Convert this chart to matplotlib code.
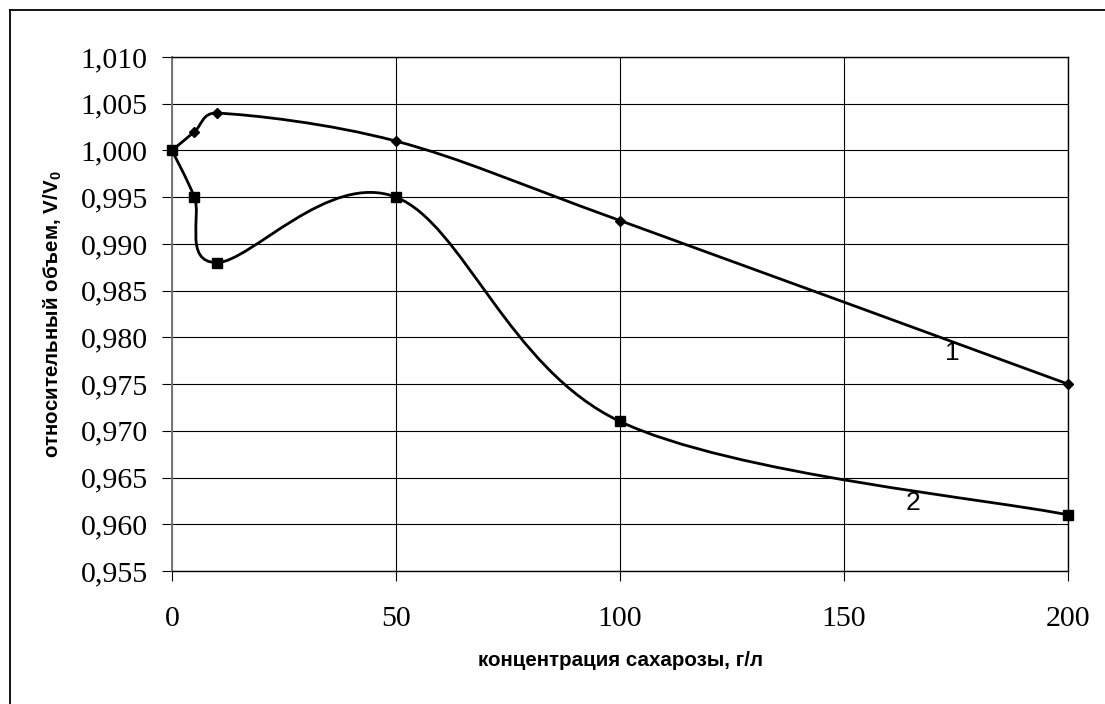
import numpy
import matplotlib
matplotlib.use('Agg')
import matplotlib.pyplot as plt
from matplotlib.path import Path
from matplotlib.patches import PathPatch
from matplotlib.lines import Line2D

# data
conc = [0, 5, 10, 50, 100, 200]
volume1 = [1.000, 1.002, 1.004, 1.001, 0.9925, 0.975]
volume2 = [1.000, 0.995, 0.988, 0.995, 0.971, 0.961]
xticks = [0, 50, 100, 150, 200]
yticks = [0.955, 0.960, 0.965, 0.970, 0.975, 0.980, 0.985, 0.990, 0.995, 1.000, 1.005, 1.010]
curve_labels = ['1', '2']
label_pos = [(174.1, 0.9783), (165.4, 0.9623)]

plt.rcParams['mathtext.fontset'] = 'custom'
plt.rcParams['mathtext.bf'] = 'Liberation Sans:bold'
plt.rcParams['mathtext.rm'] = 'Liberation Sans'

W, H = 1105, 704
fig = plt.figure(figsize=(W/100, H/100), dpi=100)
ax = fig.add_axes([172/W, 1-571/H, (1068-172)/W, (571-57)/H])
ax.set_xlim(0, 200)
ax.set_ylim(0.955, 1.010)

# outer chart border (only top and left visible)
fig.add_artist(Line2D([9.5/W, 1.0], [1-9.5/H, 1-9.5/H], transform=fig.transFigure, color='black', lw=1.3))
fig.add_artist(Line2D([9.5/W, 9.5/W], [0, 1-9.5/H], transform=fig.transFigure, color='black', lw=1.3))


def excel_smooth(xs, ys):
    # excel-like smoothed line: bezier segments with 1/6 tension, capped at half segment length
    pts = ax.transData.transform(numpy.column_stack([xs, ys]))
    n = len(pts)
    verts = [pts[0]]
    codes = [Path.MOVETO]
    for i in range(n-1):
        p0 = pts[max(i-1, 0)]
        p1 = pts[i]
        p2 = pts[i+1]
        p3 = pts[min(i+2, n-1)]
        d12 = numpy.hypot(*(p2-p1))
        d02 = numpy.hypot(*(p2-p0))
        d13 = numpy.hypot(*(p3-p1))
        f0 = min(1/6, d12/(2*d02)) if d02 > 0 else 0
        f1 = min(1/6, d12/(2*d13)) if d13 > 0 else 0
        c1 = p1 + f0*(p2-p0)
        c2 = p2 - f1*(p3-p1)
        verts += [c1, c2, p2]
        codes += [Path.CURVE4]*3
    verts = ax.transData.inverted().transform(numpy.array(verts))
    return Path(verts, codes)


ax.add_patch(PathPatch(excel_smooth(conc, volume1), fill=False, edgecolor='black', lw=2.0, zorder=3))
ax.add_patch(PathPatch(excel_smooth(conc, volume2), fill=False, edgecolor='black', lw=2.0, zorder=3))
ax.plot(conc, volume1, linestyle='none', marker='D', ms=5.0, color='black', zorder=4, clip_on=False)
ax.plot(conc, volume2, linestyle='none', marker='s', ms=6.6, color='black', zorder=4, clip_on=False)

for txt, (lx, ly) in zip(curve_labels, label_pos):
    ax.text(lx, ly, txt, fontsize=19, family='Liberation Sans', ha='center', va='center')

ax.set_xticks(xticks)
ax.set_yticks(yticks)
ax.set_xticklabels([str(v) for v in xticks], family='Liberation Serif', fontsize=21.5)
ax.set_yticklabels([f'{v:.3f}'.replace('.', ',') for v in yticks], family='Liberation Serif', fontsize=21.5)
ax.tick_params(axis='both', direction='out', length=7, width=0.8, color='black')
ax.tick_params(axis='y', pad=10.5)
ax.tick_params(axis='x', pad=18)
ax.grid(True, color='black', lw=0.8)
ax.set_axisbelow(True)
ax.spines['left'].set_color('#777777')
ax.spines['left'].set_linewidth(1.4)
for s in ['top', 'right', 'bottom']:
    ax.spines[s].set_color('black')
    ax.spines[s].set_linewidth(1.0)

ax.set_xlabel('концентрация сахарозы, г/л', family='Liberation Sans', fontweight='bold', fontsize=14.8, labelpad=14)
ax.set_ylabel('относительный объем, $\\mathbf{V/V_0}$', family='Liberation Sans', fontweight='bold', fontsize=14.8, labelpad=12)

fig.savefig('out.png', dpi=100)
